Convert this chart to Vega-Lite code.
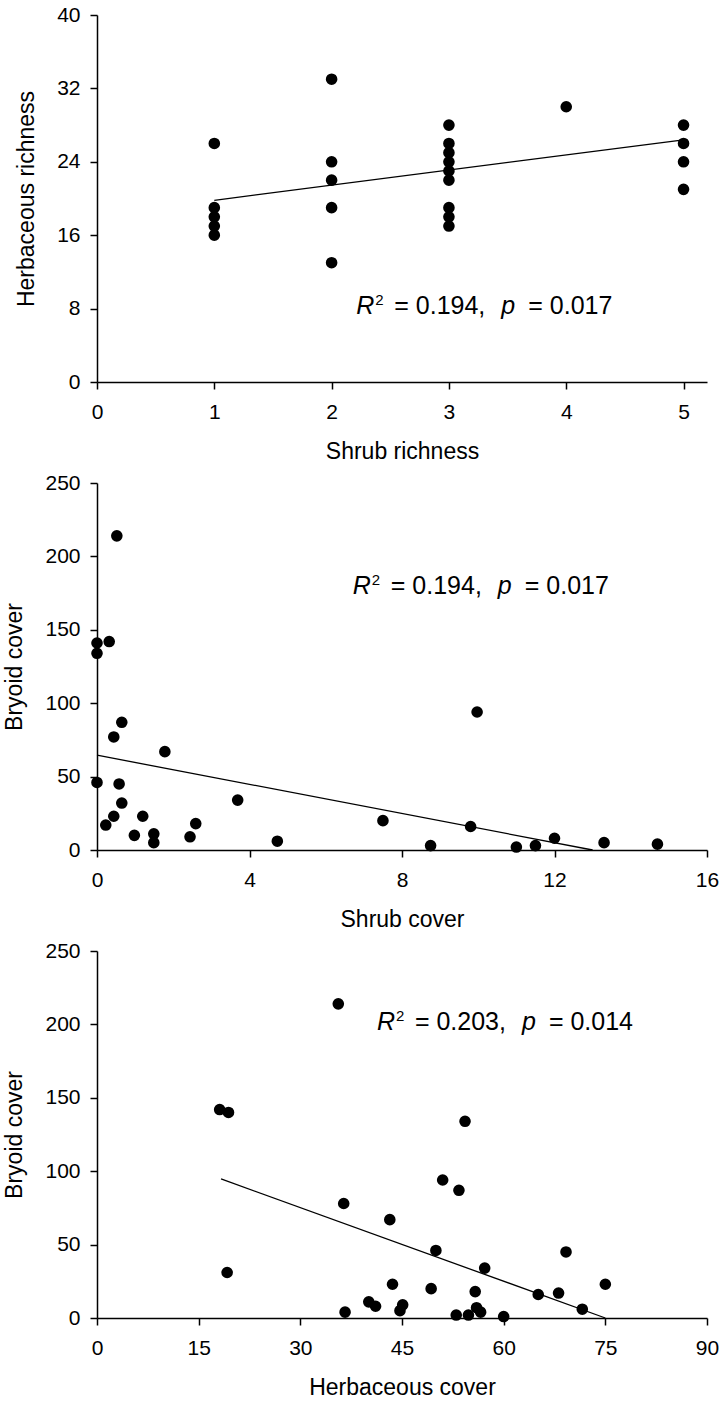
{
  "$schema": "https://vega.github.io/schema/vega-lite/v6.json",
  "padding": {"left": 3, "top": 4, "right": 2, "bottom": 2},
  "spacing": 9,
  "background": "white",
  "config": {
    "font": "Liberation Sans",
    "view": {"stroke": null},
    "axis": {
      "grid": false,
      "domainColor": "black",
      "domainWidth": 1.5,
      "tickColor": "black",
      "tickWidth": 1.5,
      "tickSize": 7,
      "labelColor": "black",
      "labelFont": "Liberation Sans",
      "labelFontSize": 21,
      "titleColor": "black",
      "titleFont": "Liberation Sans",
      "titleFontSize": 23,
      "titleFontWeight": "normal"
    },
    "axisX": {"labelPadding": 12, "titlePadding": 18, "labelFlush": false},
    "axisY": {"labelPadding": 10, "titlePadding": 18, "labelFlush": false}
  },
  "datasets": {
    "p1": [
      {"x": 1, "y": 26}, {"x": 1, "y": 19}, {"x": 1, "y": 18}, {"x": 1, "y": 17}, {"x": 1, "y": 16},
      {"x": 2, "y": 33}, {"x": 2, "y": 24}, {"x": 2, "y": 22}, {"x": 2, "y": 19}, {"x": 2, "y": 13},
      {"x": 3, "y": 28}, {"x": 3, "y": 26}, {"x": 3, "y": 25}, {"x": 3, "y": 24}, {"x": 3, "y": 23}, {"x": 3, "y": 22},
      {"x": 3, "y": 19}, {"x": 3, "y": 18}, {"x": 3, "y": 17},
      {"x": 4, "y": 30},
      {"x": 5, "y": 28}, {"x": 5, "y": 26}, {"x": 5, "y": 24}, {"x": 5, "y": 21}
    ],
    "p2": [
      {"x": 0.52, "y": 214}, {"x": 0, "y": 141}, {"x": 0, "y": 134}, {"x": 0.32, "y": 142},
      {"x": 0.65, "y": 87}, {"x": 0.44, "y": 77}, {"x": 1.78, "y": 67}, {"x": 0, "y": 46},
      {"x": 0.58, "y": 45}, {"x": 0.65, "y": 32}, {"x": 0.44, "y": 23}, {"x": 0.23, "y": 17},
      {"x": 1.2, "y": 23}, {"x": 0.98, "y": 10}, {"x": 1.49, "y": 11}, {"x": 1.49, "y": 5},
      {"x": 2.44, "y": 9}, {"x": 2.59, "y": 18}, {"x": 3.69, "y": 34}, {"x": 4.73, "y": 6},
      {"x": 9.97, "y": 94}, {"x": 7.5, "y": 20}, {"x": 9.8, "y": 16}, {"x": 8.75, "y": 3},
      {"x": 11.0, "y": 2}, {"x": 11.5, "y": 3}, {"x": 12.0, "y": 8}, {"x": 13.3, "y": 5},
      {"x": 14.7, "y": 4}
    ],
    "p3": [
      {"x": 35.6, "y": 214}, {"x": 18.1, "y": 142}, {"x": 19.4, "y": 140}, {"x": 36.4, "y": 78},
      {"x": 19.2, "y": 31}, {"x": 36.6, "y": 4}, {"x": 54.3, "y": 134}, {"x": 51.0, "y": 94},
      {"x": 53.4, "y": 87}, {"x": 43.2, "y": 67}, {"x": 50.0, "y": 46}, {"x": 57.2, "y": 34},
      {"x": 69.2, "y": 45}, {"x": 43.6, "y": 23}, {"x": 49.3, "y": 20}, {"x": 55.8, "y": 18},
      {"x": 65.1, "y": 16}, {"x": 68.1, "y": 17}, {"x": 75.0, "y": 23}, {"x": 71.6, "y": 6},
      {"x": 40.1, "y": 11}, {"x": 41.1, "y": 8}, {"x": 45.1, "y": 9}, {"x": 44.7, "y": 5},
      {"x": 53.0, "y": 2}, {"x": 54.8, "y": 2}, {"x": 56.0, "y": 7}, {"x": 56.6, "y": 4},
      {"x": 60.0, "y": 1}
    ],
    "l1": [{"x": 1, "y": 19.8}, {"x": 5, "y": 26.4}],
    "l2": [{"x": 0, "y": 64.6}, {"x": 13.0, "y": 0}],
    "l3": [{"x": 18.3, "y": 94.7}, {"x": 75.0, "y": 0}],
    "a1": [{"x": 2.21, "y": 7.36, "r2text": "= 0.194,", "ptext": "= 0.017"}],
    "a2": [{"x": 6.71, "y": 174.3, "r2text": "= 0.194,", "ptext": "= 0.017"}],
    "a3": [{"x": 41.3, "y": 196.3, "r2text": "= 0.203,", "ptext": "= 0.014"}]
  },
  "vconcat": [
    {
      "width": 610,
      "height": 367,
      "encoding": {
        "x": {"field": "x", "type": "quantitative", "title": "Shrub richness",
              "scale": {"domain": [0, 5.2], "nice": false},
              "axis": {"values": [0, 1, 2, 3, 4, 5]}},
        "y": {"field": "y", "type": "quantitative", "title": "Herbaceous richness",
              "scale": {"domain": [0, 40], "nice": false},
              "axis": {"values": [0, 8, 16, 24, 32, 40]}}
      },
      "layer": [
        {"data": {"name": "l1"}, "mark": {"type": "line", "color": "black", "strokeWidth": 1.3}},
        {"data": {"name": "p1"}, "mark": {"type": "circle", "color": "black", "opacity": 1, "size": 135}},
        {"data": {"name": "a1"}, "mark": {"type": "text", "align": "left", "baseline": "alphabetic", "fontSize": 25, "fontStyle": "italic", "color": "black"}, "encoding": {"text": {"value": "R"}}},
        {"data": {"name": "a1"}, "mark": {"type": "text", "align": "left", "baseline": "alphabetic", "fontSize": 15, "dx": 19, "dy": -9, "color": "black"}, "encoding": {"text": {"value": "2"}}},
        {"data": {"name": "a1"}, "mark": {"type": "text", "align": "left", "baseline": "alphabetic", "fontSize": 25, "dx": 38, "color": "black"}, "encoding": {"text": {"field": "r2text"}}},
        {"data": {"name": "a1"}, "mark": {"type": "text", "align": "left", "baseline": "alphabetic", "fontSize": 25, "dx": 145, "fontStyle": "italic", "color": "black"}, "encoding": {"text": {"value": "p"}}},
        {"data": {"name": "a1"}, "mark": {"type": "text", "align": "left", "baseline": "alphabetic", "fontSize": 25, "dx": 172, "color": "black"}, "encoding": {"text": {"field": "ptext"}}}
      ]
    },
    {
      "width": 610,
      "height": 367,
      "encoding": {
        "x": {"field": "x", "type": "quantitative", "title": "Shrub cover",
              "scale": {"domain": [0, 16], "nice": false},
              "axis": {"values": [0, 4, 8, 12, 16]}},
        "y": {"field": "y", "type": "quantitative", "title": "Bryoid cover",
              "scale": {"domain": [0, 250], "nice": false},
              "axis": {"values": [0, 50, 100, 150, 200, 250]}}
      },
      "layer": [
        {"data": {"name": "l2"}, "mark": {"type": "line", "color": "black", "strokeWidth": 1.3}},
        {"data": {"name": "p2"}, "mark": {"type": "circle", "color": "black", "opacity": 1, "size": 135}},
        {"data": {"name": "a2"}, "mark": {"type": "text", "align": "left", "baseline": "alphabetic", "fontSize": 25, "fontStyle": "italic", "color": "black"}, "encoding": {"text": {"value": "R"}}},
        {"data": {"name": "a2"}, "mark": {"type": "text", "align": "left", "baseline": "alphabetic", "fontSize": 15, "dx": 19, "dy": -9, "color": "black"}, "encoding": {"text": {"value": "2"}}},
        {"data": {"name": "a2"}, "mark": {"type": "text", "align": "left", "baseline": "alphabetic", "fontSize": 25, "dx": 38, "color": "black"}, "encoding": {"text": {"field": "r2text"}}},
        {"data": {"name": "a2"}, "mark": {"type": "text", "align": "left", "baseline": "alphabetic", "fontSize": 25, "dx": 145, "fontStyle": "italic", "color": "black"}, "encoding": {"text": {"value": "p"}}},
        {"data": {"name": "a2"}, "mark": {"type": "text", "align": "left", "baseline": "alphabetic", "fontSize": 25, "dx": 172, "color": "black"}, "encoding": {"text": {"field": "ptext"}}}
      ]
    },
    {
      "width": 610,
      "height": 367,
      "encoding": {
        "x": {"field": "x", "type": "quantitative", "title": "Herbaceous cover",
              "scale": {"domain": [0, 90], "nice": false},
              "axis": {"values": [0, 15, 30, 45, 60, 75, 90]}},
        "y": {"field": "y", "type": "quantitative", "title": "Bryoid cover",
              "scale": {"domain": [0, 250], "nice": false},
              "axis": {"values": [0, 50, 100, 150, 200, 250]}}
      },
      "layer": [
        {"data": {"name": "l3"}, "mark": {"type": "line", "color": "black", "strokeWidth": 1.3}},
        {"data": {"name": "p3"}, "mark": {"type": "circle", "color": "black", "opacity": 1, "size": 135}},
        {"data": {"name": "a3"}, "mark": {"type": "text", "align": "left", "baseline": "alphabetic", "fontSize": 25, "fontStyle": "italic", "color": "black"}, "encoding": {"text": {"value": "R"}}},
        {"data": {"name": "a3"}, "mark": {"type": "text", "align": "left", "baseline": "alphabetic", "fontSize": 15, "dx": 19, "dy": -9, "color": "black"}, "encoding": {"text": {"value": "2"}}},
        {"data": {"name": "a3"}, "mark": {"type": "text", "align": "left", "baseline": "alphabetic", "fontSize": 25, "dx": 38, "color": "black"}, "encoding": {"text": {"field": "r2text"}}},
        {"data": {"name": "a3"}, "mark": {"type": "text", "align": "left", "baseline": "alphabetic", "fontSize": 25, "dx": 145, "fontStyle": "italic", "color": "black"}, "encoding": {"text": {"value": "p"}}},
        {"data": {"name": "a3"}, "mark": {"type": "text", "align": "left", "baseline": "alphabetic", "fontSize": 25, "dx": 172, "color": "black"}, "encoding": {"text": {"field": "ptext"}}}
      ]
    }
  ]
}
